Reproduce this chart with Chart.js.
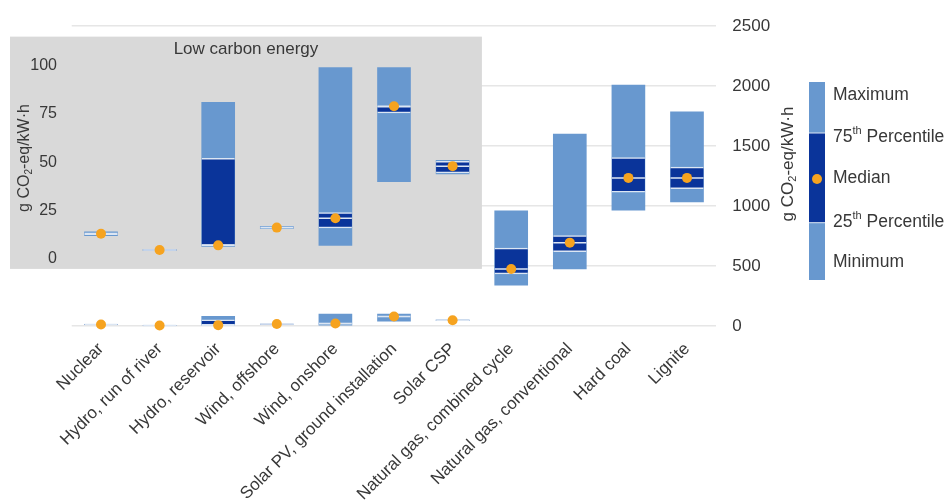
<!DOCTYPE html>
<html>
<head>
<meta charset="utf-8">
<script src="https://cdn.jsdelivr.net/npm/chart.js@4.4.1/dist/chart.umd.min.js"></script>
<style>
  html, body { margin: 0; padding: 0; background: #ffffff; }
  #wrap { position: relative; width: 947px; height: 502px; }
</style>
</head>
<body>
<div id="wrap"><canvas id="chart"></canvas></div>
<script>
// Life-cycle emissions per technology, g CO2-eq/kWh
const categories = [
  'Nuclear', 'Hydro, run of river', 'Hydro, reservoir', 'Wind, offshore', 'Wind, onshore',
  'Solar PV, ground installation', 'Solar CSP', 'Natural gas, combined cycle',
  'Natural gas, conventional', 'Hard coal', 'Lignite'
];
const minimum = [12, 4.2, 6.5, 15.6, 7, 40, 44, 340, 475, 965, 1035];
const p25     = [12.5, 4.4, 7, 15.9, 16, 75.5, 44.5, 435, 620, 1115, 1145];
const median  = [13, 4.6, 7, 16.2, 21, 79, 48, 475, 695, 1235, 1235];
const p75     = [13.5, 4.8, 52, 16.5, 24, 79, 50.5, 650, 755, 1405, 1325];
const maximum = [14, 5, 81, 16.8, 99, 99, 51, 960, 1600, 2010, 1785];

// The first technologies are repeated on the zoomed "low carbon" scale
const lowCarbonCount = 7;

const mainTicks  = [0, 500, 1000, 1500, 2000, 2500];
const insetTicks = [0, 25, 50, 75, 100];

const legendLabels = ['Maximum', ['75', 'th', ' Percentile'], 'Median', ['25', 'th', ' Percentile'], 'Minimum'];

// Styling
const FONT = "'Liberation Sans', Arial, Helvetica, sans-serif";
const LIGHT = '#6898cf';
const DARK = '#0a349a';
const ORANGE = '#f6a31f';
const SEP = '#dce6f3';
const PANEL = '#d9d9d9';
const TXT = '#383838';
const GRID = '#e6e6e6';

Chart.defaults.font.family = FONT;
Chart.defaults.color = TXT;

function rangeData(lo, hi, onlyLow) {
  return categories.map((_, i) => (onlyLow && i >= lowCarbonCount) ? null : [lo[i], hi[i]]);
}
function pointData(v, onlyLow) {
  return categories.map((_, i) => (onlyLow && i >= lowCarbonCount) ? null : v[i]);
}

function boxDatasets(axis, onlyLow) {
  return [
    { type: 'bar', yAxisID: axis, data: rangeData(minimum, maximum, onlyLow),
      backgroundColor: LIGHT, borderWidth: 0, grouped: false, barThickness: 33, order: 3, clip: false },
    { type: 'bar', yAxisID: axis, data: rangeData(p25, p75, onlyLow),
      backgroundColor: DARK, borderColor: SEP, borderWidth: { top: 1.5, bottom: 1.5, left: 0, right: 0 },
      borderSkipped: false, grouped: false, barThickness: 33, order: 2, clip: false },
    { type: 'line', yAxisID: axis, data: pointData(median, onlyLow), showLine: false,
      pointStyle: 'line', pointRadius: 16.5, pointBorderWidth: 1.5, pointBorderColor: SEP, order: 1, clip: false },
    { type: 'line', yAxisID: axis, data: pointData(median, onlyLow), showLine: false,
      pointStyle: 'circle', pointRadius: 5, pointBackgroundColor: ORANGE, pointBorderWidth: 0, order: 0, clip: false }
  ];
}

// Text with a sub- or superscript part, placed relative to (0, 0) of the current transform
function richText(ctx, parts, size, align) {
  const widths = parts.map(p => {
    ctx.font = (p.s ? Math.round(size * 0.62) : size) + 'px ' + FONT;
    return ctx.measureText(p.t).width;
  });
  const total = widths.reduce((a, b) => a + b, 0);
  let x = align === 'left' ? 0 : -total / 2;
  parts.forEach((p, i) => {
    ctx.font = (p.s ? Math.round(size * 0.62) : size) + 'px ' + FONT;
    const dy = p.s === 'sub' ? size * 0.28 : p.s === 'sup' ? -size * 0.32 : 0;
    ctx.fillText(p.t, x, dy);
    x += widths[i];
  });
}

const unitParts = [{ t: 'g CO' }, { t: '2', s: 'sub' }, { t: '-eq/kW\u00b7h' }];

const decorations = {
  id: 'decorations',
  beforeDatasetsDraw(chart) {
    const { ctx, scales: { x, yInset } } = chart;
    const half = (x.getPixelForValue(1) - x.getPixelForValue(0)) / 2;
    const left = 10;
    const right = x.getPixelForValue(lowCarbonCount - 1) + half;
    const top = yInset.getPixelForValue(insetTicks[insetTicks.length - 1]) - 29;
    const bottom = yInset.getPixelForValue(0) + 10;
    ctx.save();
    ctx.fillStyle = PANEL;
    ctx.fillRect(left, top, right - left, bottom - top);
    ctx.fillStyle = TXT;
    ctx.font = '17px ' + FONT;
    ctx.textAlign = 'center';
    ctx.textBaseline = 'middle';
    ctx.fillText('Low carbon energy', (left + right) / 2, top + 13);
    ctx.restore();
  },
  afterDraw(chart) {
    const { ctx, chartArea } = chart;
    ctx.save();
    ctx.fillStyle = TXT;
    ctx.textBaseline = 'middle';
    ctx.textAlign = 'left';

    // axis titles, reading bottom to top
    [[25, 158, 16], [chartArea.right + 72, 164, 17]].forEach(([cx, cy, size]) => {
      ctx.save();
      ctx.translate(cx, cy);
      ctx.rotate(-Math.PI / 2);
      richText(ctx, unitParts, size, 'center');
      ctx.restore();
    });

    // box legend
    const bx = 809, bw = 16, top = 82, q3 = 133, q1 = 222.7, bottom = 280;
    ctx.fillStyle = LIGHT;
    ctx.fillRect(bx, top, bw, bottom - top);
    ctx.fillStyle = DARK;
    ctx.fillRect(bx, q3, bw, q1 - q3);
    ctx.fillStyle = SEP;
    ctx.fillRect(bx, q3 - 0.5, bw, 1);
    ctx.fillRect(bx, q1 - 0.5, bw, 1);
    ctx.fillStyle = ORANGE;
    ctx.beginPath();
    ctx.arc(bx + bw / 2, 179, 5, 0, Math.PI * 2);
    ctx.fill();

    const ys = [95, 137, 178, 222, 262];
    ctx.fillStyle = TXT;
    legendLabels.forEach((lab, i) => {
      ctx.save();
      ctx.translate(833, ys[i]);
      const parts = Array.isArray(lab) ? [{ t: lab[0] }, { t: lab[1], s: 'sup' }, { t: lab[2] }] : [{ t: lab }];
      richText(ctx, parts, 17.5, 'left');
      ctx.restore();
    });
    ctx.restore();
  }
};

new Chart(document.getElementById('chart'), {
  type: 'bar',
  data: {
    labels: categories,
    datasets: [...boxDatasets('y', false), ...boxDatasets('yInset', true)]
  },
  options: {
    responsive: true,
    maintainAspectRatio: false,
    animation: false,
    layout: { padding: { top: 23.5, left: 0, right: 0, bottom: 0 } },
    plugins: { legend: { display: false }, tooltip: { enabled: false } },
    scales: {
      x: {
        offset: true,
        grid: { display: false, drawTicks: false },
        border: { display: false },
        ticks: { autoSkip: false, minRotation: 45, maxRotation: 45, color: TXT, font: { size: 17 }, padding: 13 },
        afterFit: s => { s.height = 176; }
      },
      y: {
        position: 'right',
        min: mainTicks[0],
        max: mainTicks[mainTicks.length - 1],
        grid: { color: GRID, lineWidth: 1.5, drawTicks: false },
        border: { display: false },
        ticks: { color: TXT, font: { size: 17 }, padding: 16, callback: v => String(v) },
        afterBuildTicks: s => { s.ticks = mainTicks.map(v => ({ value: v })); },
        afterFit: s => { s.width = 230.7; }
      },
      yInset: {
        position: 'left',
        min: -34.72,
        max: 120.41,
        grid: { display: false, drawTicks: false },
        border: { display: false },
        ticks: { z: 1, color: TXT, font: { size: 16 }, padding: 14.7, callback: v => String(v) },
        afterBuildTicks: s => { s.ticks = insetTicks.map(v => ({ value: v })); },
        afterFit: s => { s.width = 71.7; }
      }
    }
  },
  plugins: [decorations]
});
</script>
</body>
</html>
